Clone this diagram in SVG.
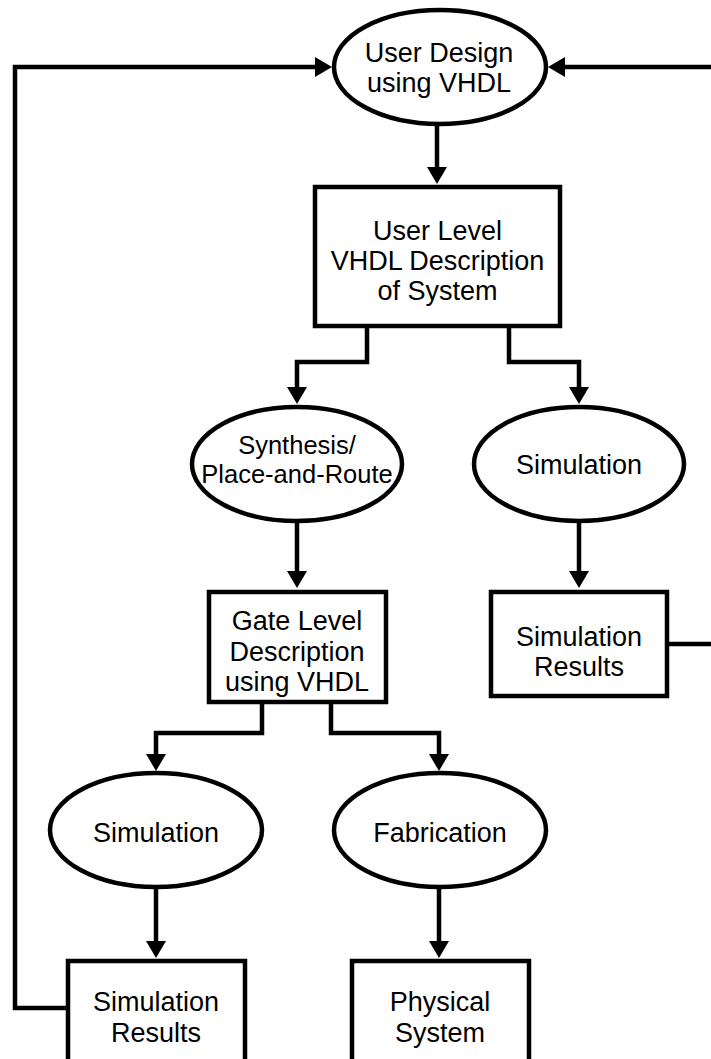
<svg xmlns="http://www.w3.org/2000/svg" width="711" height="1059" viewBox="0 0 711 1059">
<style>
.shape{fill:#fff;stroke:#000;stroke-width:4.5}
.conn{fill:none;stroke:#000;stroke-width:4.5;stroke-linejoin:miter}
text{font-family:"Liberation Sans",Arial,sans-serif;font-size:27px;fill:#000;text-anchor:middle}
.small{font-size:25.5px}
</style>
<defs>
<marker id="arr" markerUnits="userSpaceOnUse" markerWidth="20" markerHeight="20" refX="9" refY="10" orient="auto" viewBox="0 0 17 20">
<path d="M0,0 L17,10 L0,20 z" fill="#000"/>
</marker>
</defs>
<rect width="711" height="1059" fill="#fff"/>
<g id="connectors">
<path class="conn" d="M67,1008 H15 V67 H324" marker-end="url(#arr)"/>
<path class="conn" d="M667,644 H716 V67 H556" marker-end="url(#arr)"/>
<path class="conn" d="M437,124 V176" marker-end="url(#arr)"/>
<path class="conn" d="M367,327 V362 H297 V396" marker-end="url(#arr)"/>
<path class="conn" d="M509,327 V362 H579 V396" marker-end="url(#arr)"/>
<path class="conn" d="M297,521 V580" marker-end="url(#arr)"/>
<path class="conn" d="M579,521 V580" marker-end="url(#arr)"/>
<path class="conn" d="M262,702 V733 H156 V763" marker-end="url(#arr)"/>
<path class="conn" d="M331,702 V733 H439 V763" marker-end="url(#arr)"/>
<path class="conn" d="M156,887 V950" marker-end="url(#arr)"/>
<path class="conn" d="M439,887 V950" marker-end="url(#arr)"/>
</g>
<g id="user-design">
<ellipse class="shape" cx="440" cy="67" rx="106" ry="57"/>
<text x="439" y="62">User Design</text>
<text x="439" y="92">using VHDL</text>
</g>
<g id="user-level">
<rect class="shape" x="315" y="187" width="245" height="139"/>
<text x="437.5" y="240">User Level</text>
<text x="437.5" y="270">VHDL Description</text>
<text x="437.5" y="300">of System</text>
</g>
<g id="synthesis">
<ellipse class="shape" cx="297" cy="464" rx="105" ry="57"/>
<text class="small" x="297" y="454">Synthesis/</text>
<text class="small" x="297" y="483">Place-and-Route</text>
</g>
<g id="simulation-1">
<ellipse class="shape" cx="579" cy="464" rx="105" ry="57"/>
<text x="579" y="474">Simulation</text>
</g>
<g id="gate-level">
<rect class="shape" x="209" y="592" width="177" height="110"/>
<text x="297" y="630">Gate Level</text>
<text x="297" y="661">Description</text>
<text x="297" y="691">using VHDL</text>
</g>
<g id="sim-results-1">
<rect class="shape" x="491" y="592" width="176" height="104"/>
<text x="579" y="646">Simulation</text>
<text x="579" y="676">Results</text>
</g>
<g id="simulation-2">
<ellipse class="shape" cx="156" cy="830" rx="106" ry="57"/>
<text x="156" y="842">Simulation</text>
</g>
<g id="fabrication">
<ellipse class="shape" cx="440" cy="830" rx="106" ry="57"/>
<text x="440" y="842">Fabrication</text>
</g>
<g id="sim-results-2">
<rect class="shape" x="68" y="961" width="177" height="110"/>
<text x="156" y="1011">Simulation</text>
<text x="156" y="1042">Results</text>
</g>
<g id="physical-system">
<rect class="shape" x="352" y="961" width="177" height="110"/>
<text x="440" y="1011">Physical</text>
<text x="440" y="1042">System</text>
</g>
</svg>
